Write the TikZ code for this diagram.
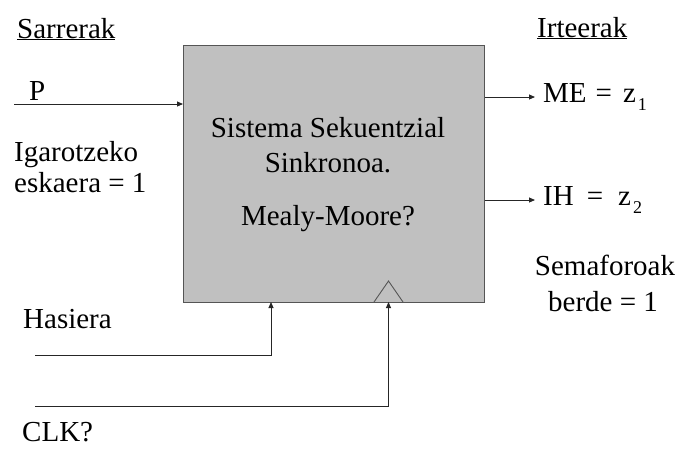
\documentclass[tikz,border=0pt]{standalone}
\usepackage{fontspec}
\setmainfont{Liberation Serif}
\usetikzlibrary{arrows.meta}
\definecolor{boxfill}{RGB}{192,192,192}
\definecolor{boxline}{RGB}{85,85,85}
\newcommand{\lowsub}[1]{\raisebox{-8pt}{\fontsize{18}{20}\selectfont #1}}
\begin{document}
\begin{tikzpicture}[x=1pt,y=-1pt,
  txt/.style={inner sep=0pt,font=\fontsize{29}{34}\selectfont},
  wire/.style={draw=black!85,line width=0.9pt},
  arr/.style={wire,-{Triangle[length=6pt,width=5pt]}}]
\useasboundingbox (0,0) rectangle (679,448);
% main block
\node[draw=boxline,line width=1.3pt,fill=boxfill,minimum width=301pt,minimum height=257pt,inner sep=0pt,anchor=north west] (sys) at (183,45) {};
\node[txt,anchor=base] (t1) at (328,137) {Sistema Sekuentzial};
\node[txt,anchor=base] (t2) at (328,172) {Sinkronoa.};
\node[txt,anchor=base] (t3) at (328,225) {Mealy-Moore?};
% clock triangle
\draw[draw=boxline,line width=0.9pt] (374,302) -- (388.5,281) -- (403,302);
% headings
\node[txt,anchor=base west] (sar) at (17,38) {\underline{Sarrerak}};
\node[txt,anchor=base west] (irt) at (537,37) {\underline{Irteerak}};
% inputs
\node[txt,anchor=base west] (p) at (29,100) {P};
\coordinate (pin) at (14,104);
\draw[arr] (pin) -- (pin -| sys.west);
\node[txt,anchor=base west] (ig1) at (14,161) {Igarotzeko};
\node[txt,anchor=base west] (ig2) at (14,192) {eskaera = 1};
\node[txt,anchor=base west] (has) at (23,328) {Hasiera};
\coordinate (h0) at (35,355);
\coordinate (hin) at (271,302);
\draw[arr] (h0) -| (hin);
\coordinate (c0) at (35,406);
\coordinate (cin) at (388.5,302);
\draw[arr] (c0) -| (cin);
\node[txt,anchor=base west] (clk) at (22,441) {CLK?};
% outputs
\coordinate (me) at (535,97);
\draw[arr] (me -| sys.east) -- (me);
\node[txt,anchor=base west] (met) at (543,102) {ME\hspace{9pt}=\hspace{11pt}z\hspace{2pt}\lowsub{1}};
\coordinate (ih) at (535,200);
\draw[arr] (ih -| sys.east) -- (ih);
\node[txt,anchor=base west] (iht) at (543,205) {IH\hspace{13pt}=\hspace{15pt}z\hspace{2pt}\lowsub{2}};
\node[txt,anchor=base] (sem1) at (605,275) {Semaforoak};
\node[txt,anchor=base] (sem2) at (603,311) {berde = 1};
\end{tikzpicture}
\end{document}
